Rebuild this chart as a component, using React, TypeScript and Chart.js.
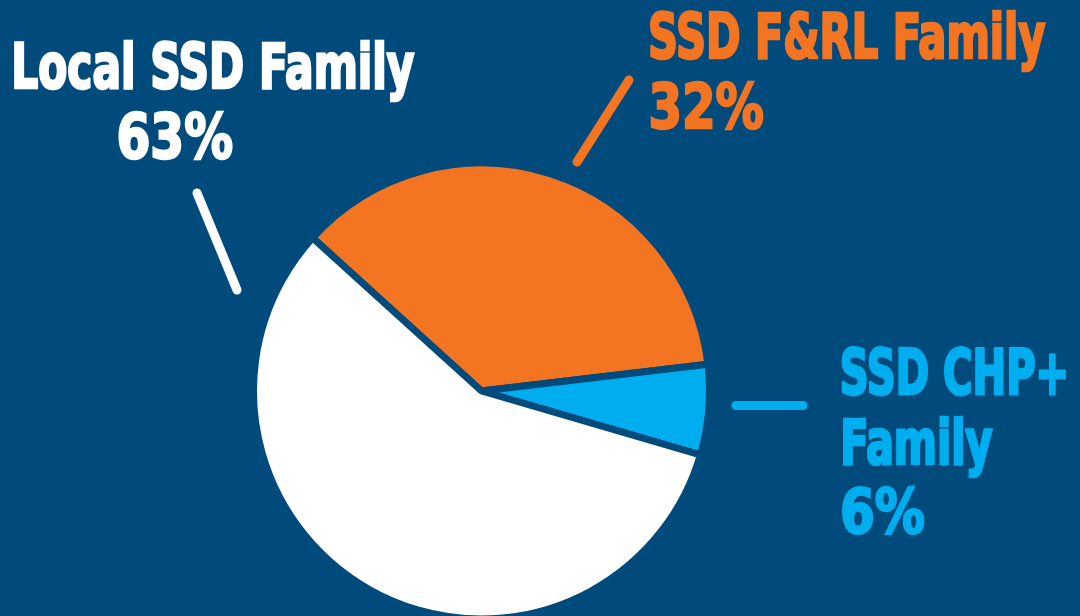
import React, { useEffect, useRef } from "react";
import { Chart, registerables } from "chart.js";

Chart.register(...registerables);

// ---- data ----
const categories = ["SSD F&RL Family", "SSD CHP+ Family", "Local SSD Family"];
// slice shares as drawn in the picture (degrees of arc)
const sliceValues = [36.4, 6.4, 57.2];
// percentages printed in the labels
const labelPercents = ["32%", "6%", "63%"];
// label text lines for each category
const labelLinesFRL = ["SSD F&RL Family", labelPercents[0]];
const labelLinesCHP = ["SSD CHP+", "Family", labelPercents[1]];
const labelLinesLocal = ["Local SSD Family", labelPercents[2]];

// ---- styles ----
const BG = "#004a7c";
const sliceColors = ["#f37421", "#00aeef", "#ffffff"];
const FONT_FAMILY = '"Liberation Sans Narrow", "DejaVu Sans Condensed", "Roboto", sans-serif';
const CAP_HEIGHT = 47.5;
const TEXT_STROKE = 2; // extra weight to mimic a heavy condensed face

// ---- layout (positions of annotation text and leader lines) ----
type TextBox = { left: number; right: number; baseline: number };
const labelLayout: { lines: string[]; color: string; boxes: TextBox[]; leader: number[] }[] = [
  {
    lines: labelLinesFRL,
    color: sliceColors[0],
    boxes: [
      { left: 650, right: 1046, baseline: 59.3 },
      { left: 650, right: 764, baseline: 129.3 },
    ],
    leader: [629, 80, 577, 162],
  },
  {
    lines: labelLinesCHP,
    color: sliceColors[1],
    boxes: [
      { left: 841.7, right: 1066.7, baseline: 395 },
      { left: 843, right: 993, baseline: 465 },
      { left: 841.7, right: 925, baseline: 534 },
    ],
    leader: [736, 405.5, 803, 405.5],
  },
  {
    lines: labelLinesLocal,
    color: sliceColors[2],
    boxes: [
      { left: 14, right: 415, baseline: 89.3 },
      { left: 118, right: 233, baseline: 159 },
    ],
    leader: [197, 193, 237, 290],
  },
];

const annotationPlugin = {
  id: "pieAnnotations",
  afterDraw(chart: any) {
    const ctx: CanvasRenderingContext2D = chart.ctx;
    ctx.save();
    // leader lines
    for (const lab of labelLayout) {
      const [x1, y1, x2, y2] = lab.leader;
      ctx.beginPath();
      ctx.moveTo(x1, y1);
      ctx.lineTo(x2, y2);
      ctx.lineWidth = 9;
      ctx.lineCap = "round";
      ctx.strokeStyle = lab.color;
      ctx.stroke();
    }
    // text
    const half = TEXT_STROKE / 2;
    ctx.font = `bold 100px ${FONT_FAMILY}`;
    const capRatio = ctx.measureText("H").actualBoundingBoxAscent / 100 || 0.72;
    const size = (CAP_HEIGHT - TEXT_STROKE) / capRatio;
    ctx.font = `bold ${size}px ${FONT_FAMILY}`;
    ctx.textAlign = "left";
    ctx.textBaseline = "alphabetic";
    ctx.lineJoin = "miter";
    ctx.miterLimit = 2;
    for (const lab of labelLayout) {
      ctx.fillStyle = lab.color;
      ctx.strokeStyle = lab.color;
      lab.lines.forEach((text, i) => {
        const box = lab.boxes[i];
        const m = ctx.measureText(text);
        const inkW = m.actualBoundingBoxLeft + m.actualBoundingBoxRight;
        const sx = inkW > 0 ? (box.right - box.left - TEXT_STROKE) / inkW : 1;
        ctx.save();
        ctx.translate(box.left + half + m.actualBoundingBoxLeft * sx, box.baseline - half);
        ctx.scale(sx, 1);
        ctx.fillText(text, 0, 0);
        ctx.lineWidth = TEXT_STROKE / sx;
        ctx.strokeText(text, 0, 0);
        ctx.restore();
      });
    }
    ctx.restore();
  },
};

export default function App() {
  const canvasRef = useRef<HTMLCanvasElement | null>(null);

  useEffect(() => {
    if (!canvasRef.current) return;
    const chart = new Chart(canvasRef.current, {
      type: "pie",
      data: {
        labels: categories,
        datasets: [
          {
            data: sliceValues,
            backgroundColor: sliceColors,
            borderColor: BG,
            borderWidth: 7,
          },
        ],
      },
      options: {
        responsive: false,
        animation: false,
        events: [],
        rotation: -47.8,
        radius: 228,
        layout: { padding: { left: 0, right: 117, top: 166, bottom: 0 } },
        plugins: {
          legend: { display: false },
          tooltip: { enabled: false },
        },
      } as any,
      plugins: [annotationPlugin],
    });
    return () => chart.destroy();
  }, []);

  return (
    <div
      style={{
        position: "fixed",
        left: 0,
        top: 0,
        width: 1080,
        height: 616,
        background: BG,
        overflow: "hidden",
      }}
    >
      <canvas ref={canvasRef} width={1080} height={616} style={{ display: "block", width: 1080, height: 616 }} />
    </div>
  );
}
